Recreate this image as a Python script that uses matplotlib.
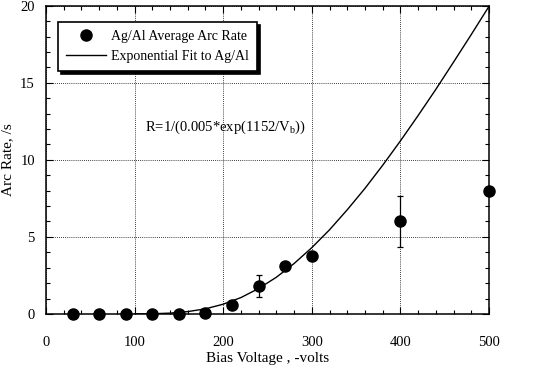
import matplotlib
matplotlib.use("Agg")
import matplotlib.pyplot as plt
from matplotlib.ticker import MultipleLocator

plt.rcParams['font.family'] = ['Liberation Serif', 'DejaVu Serif']
plt.rcParams['mathtext.fontset'] = 'custom'
plt.rcParams['mathtext.rm'] = 'Liberation Serif'
plt.rcParams['mathtext.it'] = 'Liberation Serif'

# Measured data
voltage = [30, 60, 90, 120, 150, 180, 210, 240, 270, 300, 400, 500]
arc_rate = [0.0, 0.0, 0.0, 0.0, 0.0, 0.05, 0.55, 1.8, 3.1, 3.75, 6.0, 8.0]
arc_err = [0, 0, 0, 0, 0, 0, 0, 0.7, 0, 0, 1.65, 0]

# Fit curve values
fit_v = [100, 120, 140, 160, 180, 200, 220, 240, 260, 280, 300, 320, 340,
         360, 380, 400, 420, 440, 460, 480, 500]
fit_r = [0.0, 0.01, 0.05, 0.15, 0.33, 0.63, 1.06, 1.65, 2.38, 3.27, 4.30,
         5.46, 6.76, 8.15, 9.65, 11.23, 12.88, 14.58, 16.35, 18.14, 19.97]

x_ticks = [0, 100, 200, 300, 400, 500]
y_ticks = [0, 5, 10, 15, 20]

fig = plt.figure(figsize=(5.35, 3.68), dpi=100)
ax = fig.add_axes([0.086, 0.147, 0.828, 0.837])

ax.plot(fit_v, fit_r, color='black', lw=1.0, label='Exponential Fit to Ag/Al', zorder=3)
ax.errorbar(voltage, arc_rate, yerr=arc_err, fmt='none',
            ecolor='black', elinewidth=0.9, capsize=2.5, capthick=0.9, zorder=4)
ax.plot(voltage, arc_rate, 'o', color='black', ms=8, label='Ag/Al Average Arc Rate',
        zorder=5, clip_on=False)

ax.set_xlim(0, 500)
ax.set_ylim(0, 20)
ax.set_xticks(x_ticks)
ax.set_yticks(y_ticks)
ax.xaxis.set_minor_locator(MultipleLocator(20))
ax.yaxis.set_minor_locator(MultipleLocator(1))
ax.tick_params(which='both', direction='in', top=True, right=True, labelsize=10.5)
ax.tick_params(which='major', length=5, width=0.8)
ax.tick_params(which='minor', length=3, width=0.8)
ax.tick_params(axis='x', which='major', pad=16)
ax.tick_params(axis='y', which='major', pad=8)
ax.grid(True, which='major', color='black', linestyle=(0, (1, 1.5)), linewidth=0.6)
for s in ax.spines.values():
    s.set_linewidth(1.1)

ax.set_xlabel('Bias Voltage , -volts', fontsize=11, labelpad=2)
ax.set_ylabel('Arc Rate, /s', fontsize=11, labelpad=4)

ax.text(112, 12.1, r'R=1/(0.005*exp(1152/V$_\mathregular{b}$))', fontsize=10.5,
        va='center', ha='left')

handles, labels = ax.get_legend_handles_labels()
leg = ax.legend(handles[::-1], labels[::-1], loc='upper left',
                bbox_to_anchor=(0.027, 0.948), borderaxespad=0,
                fontsize=10, fancybox=False, shadow={'color': 'black', 'alpha': 1},
                edgecolor='black', framealpha=1, handlelength=2.9,
                borderpad=0.55, labelspacing=0.55, handletextpad=0.4)
leg.get_frame().set_linewidth(1.2)

fig.savefig('out.png', dpi=100)
